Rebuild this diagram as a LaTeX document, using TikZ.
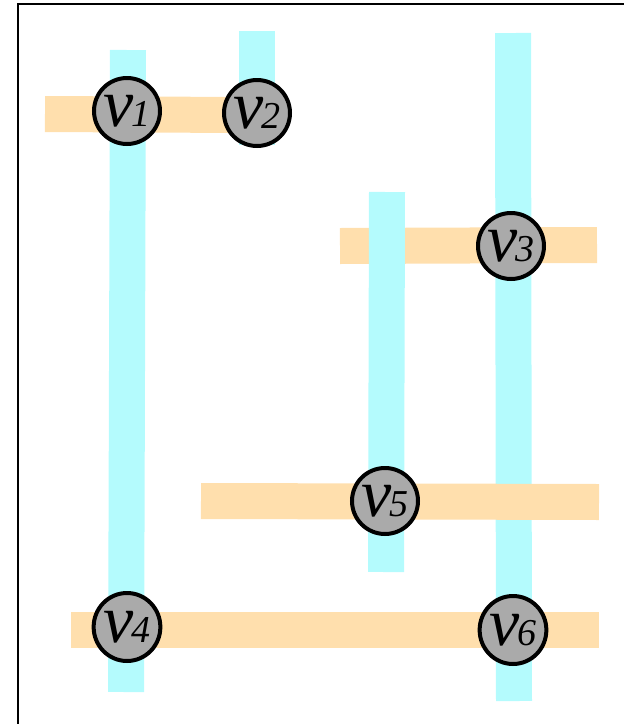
\documentclass[tikz,border=0pt]{standalone}
\usepackage{fontspec}
\setmainfont{Liberation Serif}
\usepackage{tikz}
\usetikzlibrary{shapes.geometric}

% vertex label: big italic v followed by a smaller digit
\newcommand{\vlab}[1]{{\fontsize{34}{34}\selectfont\itshape v}\kern-1pt{\fontsize{19}{19}\selectfont\itshape #1}}

\tikzset{
    vert/.style={circle, draw=black, line width=2pt, fill=vgray, minimum size=33pt, inner sep=0pt},
    hedgev/.style={draw=edgecyan, line width=18pt},
    hedgeh/.style={draw=edgeorange, line width=18pt}
}
\definecolor{vgray}{RGB}{170,170,170}
\definecolor{edgecyan}{RGB}{180,251,253}
\definecolor{edgeorange}{RGB}{255,223,173}

\begin{document}
\begin{tikzpicture}[x=0.5pt,y=-0.5pt]
        \clip (0,0) rectangle (624,724);
        \draw[line width=1pt] (18,4) rectangle (700,800);

        % horizontal edges below the vertical ones
        \draw[hedgeh] (45,114) -- (240,115);
        \draw[hedgeh] (340,246) -- (597,245);

        % vertical edges
        \draw[hedgev] (128,50) -- (126,692);
        \draw[hedgev] (257,31) -- (257,145);
        \draw[hedgev] (387,192) -- (386,572);
        \draw[hedgev] (513,33) -- (514,701);

        % horizontal edges on top
        \draw[hedgeh] (201,501) -- (599,502);
        \draw[hedgeh] (71,630) -- (599,630);

        \node[vert] (v1) at (127,111) {\vlab{1}};
        \node[vert] (v2) at (257,113) {\vlab{2}};
        \node[vert] (v3) at (511,246) {\vlab{3}};
        \node[vert] (v5) at (385,501) {\vlab{5}};
        \node[vert, ellipse, minimum width=32pt, minimum height=34pt] (v4) at (127,627) {\vlab{4}};
        \node[vert, ellipse, minimum width=32pt, minimum height=34pt] (v6) at (513,630) {\vlab{6}};
    \end{tikzpicture}
\end{document}
